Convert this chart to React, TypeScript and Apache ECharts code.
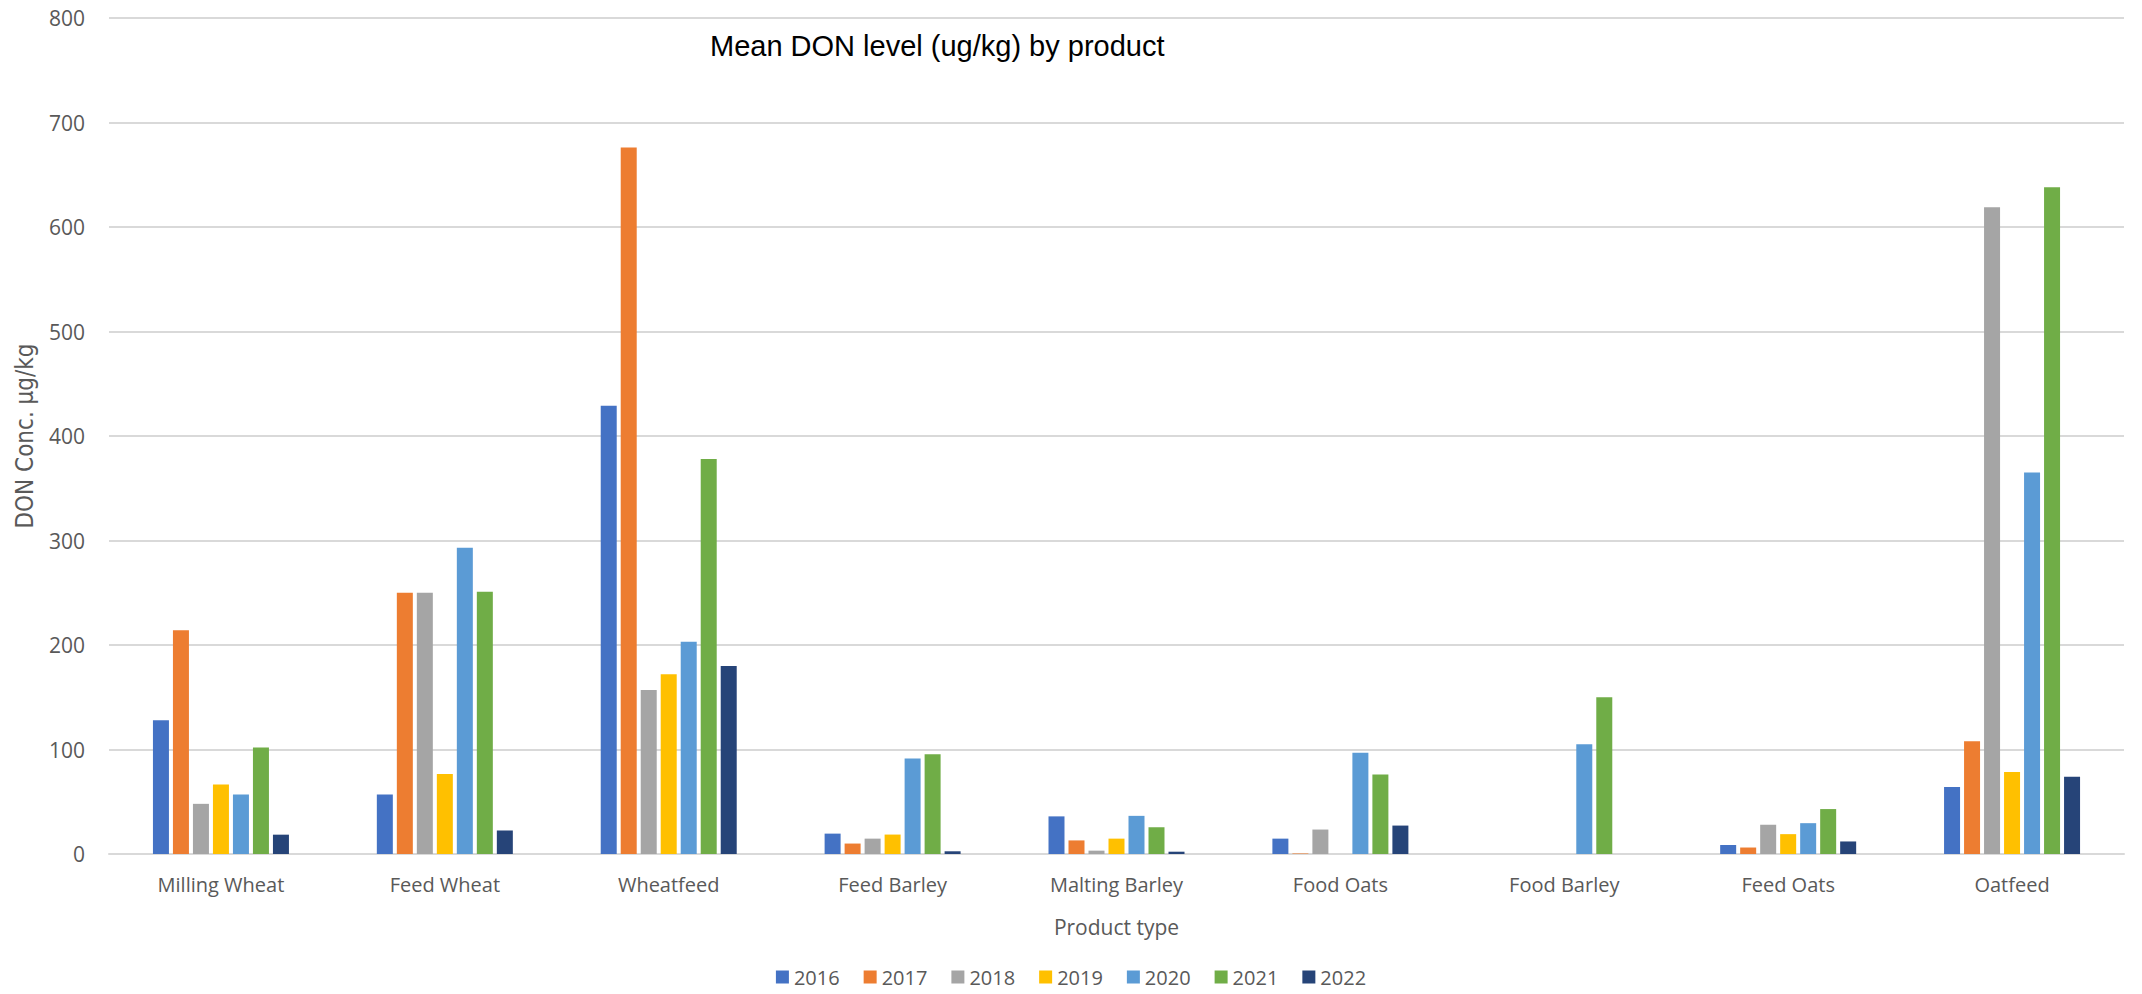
import React, { useEffect, useRef } from "react";
import * as echarts from "echarts";

const categories = [
  "Milling Wheat",
  "Feed Wheat",
  "Wheatfeed",
  "Feed Barley",
  "Malting Barley",
  "Food Oats",
  "Food Barley",
  "Feed Oats",
  "Oatfeed",
];

const years = ["2016", "2017", "2018", "2019", "2020", "2021", "2022"];

const v2016 = [128, 57, 429, 19.5, 36, 14.7, null, 8.6, 64];
const v2017 = [214, 250, 676, 10, 13, 0.5, null, 6.2, 108];
const v2018 = [48, 250, 157, 14.7, 3.2, 23.4, null, 28, 619];
const v2019 = [66.5, 76.5, 172, 18.6, 14.7, null, null, 19, 78.5];
const v2020 = [57, 293, 203, 91.5, 36.5, 97, 105, 29.5, 365];
const v2021 = [102, 251, 378, 95.4, 25.6, 76, 150, 43, 638];
const v2022 = [18.5, 22.5, 180, 2.6, 2.2, 27.2, null, 12, 74];

const seriesValues = [v2016, v2017, v2018, v2019, v2020, v2021, v2022];
const colors = ["#4472C4", "#ED7D31", "#A5A5A5", "#FFC000", "#5B9BD5", "#70AD47", "#264478"];

const yTicks = [0, 100, 200, 300, 400, 500, 600, 700, 800];

const labelFont = "'Open Sans', 'Noto Sans', sans-serif";

export default function App() {
  const ref = useRef<HTMLDivElement>(null);
  useEffect(() => {
    document.body.style.margin = "0";
    const chart = echarts.init(ref.current!, null, { renderer: "svg" });
    chart.setOption({
      animation: false,
      backgroundColor: "#ffffff",
      title: {
        text: "Mean DON level (ug/kg) by product",
        left: 705,
        top: 26,
        textStyle: {
          fontFamily: "'Liberation Sans', Arial, sans-serif",
          fontWeight: "normal",
          fontSize: 29,
          color: "#000000",
        },
      },
      legend: {
        data: years,
        bottom: 2,
        left: "center",
        itemWidth: 13,
        itemHeight: 13,
        itemGap: 24,
        icon: "rect",
        textStyle: { fontFamily: labelFont, fontSize: 20, color: "#595959" },
      },
      grid: { left: 109, right: 18, top: 18, bottom: 140, containLabel: false },
      xAxis: {
        type: "category",
        data: categories,
        name: "Product type",
        nameLocation: "middle",
        nameGap: 62,
        nameTextStyle: { fontFamily: labelFont, fontSize: 21, color: "#595959" },
        axisLine: { lineStyle: { color: "#D9D9D9", width: 2 } },
        axisTick: { show: false },
        axisLabel: { fontFamily: labelFont, fontSize: 20, color: "#595959", margin: 20 },
      },
      yAxis: {
        type: "value",
        min: 0,
        max: 800,
        interval: 100,
        name: "DON Conc. µg/kg",
        nameLocation: "middle",
        nameGap: 72,
        nameTextStyle: {
          fontFamily: "'Liberation Sans Narrow', 'DejaVu Sans Condensed', sans-serif",
          fontSize: 24,
          color: "#595959",
        },
        axisLine: { show: false },
        axisTick: { show: false },
        axisLabel: {
          fontFamily: labelFont,
          fontSize: 21,
          color: "#595959",
          margin: 24,
          formatter: (v: number) => (yTicks.includes(v) ? String(v) : ""),
        },
        splitLine: { lineStyle: { color: "#D9D9D9", width: 2 } },
      },
      series: years.map((y, i) => ({
        name: y,
        type: "bar",
        data: seriesValues[i],
        barWidth: 16,
        barGap: "25%",
        itemStyle: { color: colors[i] },
      })),
    });
    return () => chart.dispose();
  }, []);
  return <div ref={ref} style={{ width: 2142, height: 994 }} />;
}
